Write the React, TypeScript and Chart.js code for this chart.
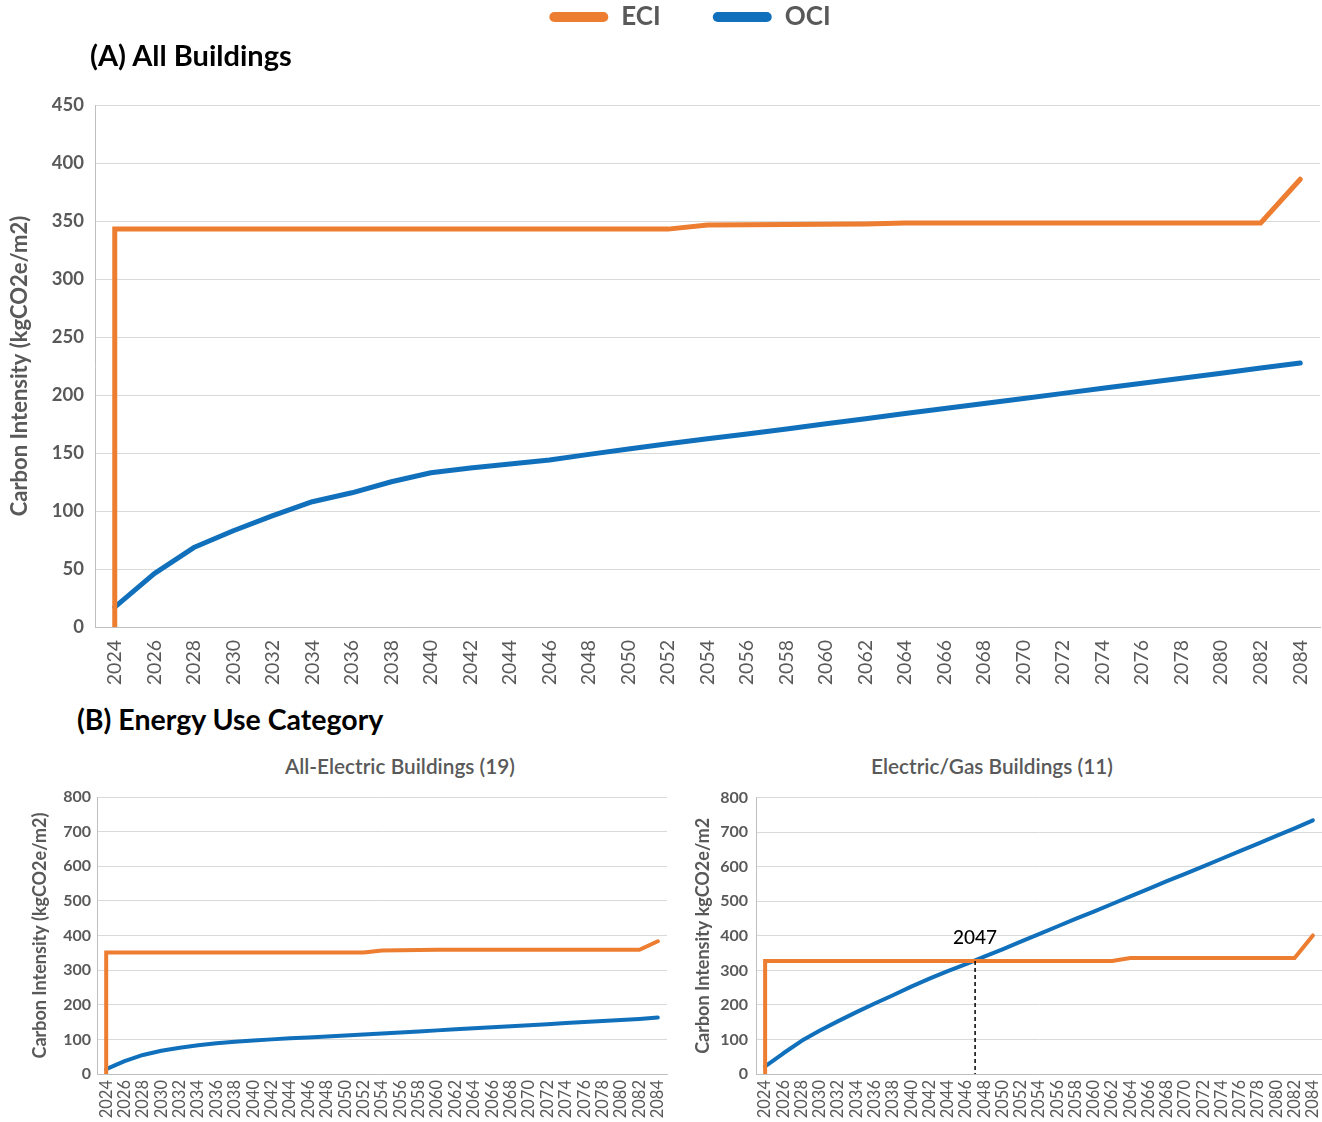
import React, { useEffect, useRef } from 'react';
import { Chart, registerables } from 'chart.js';

Chart.register(...registerables);

const FONT = 'Lato, "Noto Sans", "DejaVu Sans", sans-serif';
const GRAY = '#595959';
const GRID = '#d9d9d9';
const AXIS = '#bfbfbf';
const ORANGE = '#ED7D31';
const BLUE = '#1170BB';

// ---------- data ----------
const years = [2024, 2026, 2028, 2030, 2032, 2034, 2036, 2038, 2040, 2042, 2044, 2046, 2048, 2050, 2052, 2054, 2056, 2058, 2060, 2062, 2064, 2066, 2068, 2070, 2072, 2074, 2076, 2078, 2080, 2082, 2084];
const seriesLabels = ['ECI', 'OCI'];

// (A) All Buildings
const eciStartAll = 0;
const eciAll = [343, 343, 343, 343, 343, 343, 343, 343, 343, 343, 343, 343, 343, 343, 343, 346.5, 346.7, 347, 347.2, 347.4, 348.3, 348.3, 348.3, 348.3, 348.3, 348.3, 348.3, 348.3, 348.3, 348.3, 386];
const ociAll = [17.2, 46, 68.5, 83, 96, 108, 115.7, 125.2, 133, 137, 140.5, 144, 148.8, 153.5, 158, 162.3, 166.3, 170.7, 175.2, 179.6, 184, 188.3, 192.7, 197, 201.4, 205.8, 210.2, 214.5, 218.8, 223.2, 227.5];

// (B) All-Electric Buildings (19)
const eciStartElectric = 0;
const eciElectric = [351, 351, 351, 351, 351, 351, 351, 351, 351, 351, 351, 351, 351, 351, 351, 357, 357.5, 358, 359, 359, 359, 359, 359, 359, 359, 359, 359, 359, 359, 359, 383.5];
const ociElectric = [14, 37, 55, 67, 76, 83, 88.5, 93, 97, 100, 103, 105.5, 108, 111, 114, 117, 120, 123, 126, 129, 132, 135, 138, 141, 144, 147, 150, 153, 156, 159, 163];

// (B) Electric/Gas Buildings (11)
const eciStartGas = 0;
const eciGas = [327, 327, 327, 327, 327, 327, 327, 327, 327, 327, 327, 327, 327, 327, 327, 327, 327, 327, 327, 327, 336, 336, 336, 336, 336, 336, 336, 336, 336, 336, 401];
const ociGas = [22, 60, 96, 126, 153, 179, 204, 228, 253, 276, 298, 318, 340, 361, 383, 405, 427, 449, 470, 492, 514, 536, 558, 579, 601, 623, 645, 667, 689, 711, 734];
const crossYear = 2047;
const crossValue = 327;
const crossLabel = '2047';

// ---------- helpers ----------
const withStart = (start: number, vals: number[]) => [
  { x: years[0], y: start },
  ...years.map((x, i) => ({ x, y: vals[i] })),
];
const plain = (vals: number[]) => years.map((x, i) => ({ x, y: vals[i] }));

const legendLayoutPlugin: any = {
  id: 'legendLayout',
  beforeInit(chart: any, _args: any, opts: any) {
    const legend = chart.legend;
    if (!legend || !opts || !opts.extraHeight) return;
    const origFit = legend.fit.bind(legend);
    legend.fit = function () {
      origFit();
      this.height += opts.extraHeight;
    };
  },
  afterLayout(chart: any, _args: any, opts: any) {
    const legend = chart.legend;
    if (!legend || !opts || !opts.shiftX) return;
    legend.left += opts.shiftX;
    legend.right += opts.shiftX;
  },
};

const crossingPlugin: any = {
  id: 'crossing',
  afterDatasetsDraw(chart: any, _args: any, opts: any) {
    if (!opts || !opts.label) return;
    const { ctx, chartArea, scales } = chart;
    const x = scales.x.getPixelForValue(opts.year);
    const y = scales.y.getPixelForValue(opts.value);
    ctx.save();
    ctx.strokeStyle = '#000';
    ctx.lineWidth = 1.5;
    ctx.setLineDash([4, 3]);
    ctx.beginPath();
    ctx.moveTo(x, y);
    ctx.lineTo(x, chartArea.bottom);
    ctx.stroke();
    ctx.setLineDash([]);
    ctx.fillStyle = '#000';
    ctx.font = `500 19px ${FONT}`;
    ctx.textAlign = 'center';
    ctx.textBaseline = 'middle';
    ctx.fillText(opts.label, x, y - 23);
    ctx.restore();
  },
};

type PanelSpec = {
  eciStart: number;
  eci: number[];
  oci: number[];
  yMax: number;
  yStep: number;
  yTitle: string;
  lineWidth: number;
  yTickSize: number;
  yTickWeight: any;
  xTickSize: number;
  yTitleSize: number;
  yTitlePad: number;
  yAxisWidth: number;
  yTickPad: number;
  xAxisHeight: number;
  xTickPad: number;
  padding: { top: number; right: number; left: number; bottom: number };
  legend: boolean;
  extraPlugins: any;
};

function makeConfig(p: PanelSpec): any {
  return {
    type: 'line',
    data: {
      datasets: [
        {
          label: seriesLabels[0],
          data: withStart(p.eciStart, p.eci),
          borderColor: ORANGE,
          backgroundColor: ORANGE,
          borderWidth: p.lineWidth,
          pointRadius: 0,
          borderCapStyle: 'round',
          borderJoinStyle: 'miter',
          tension: 0,
          fill: false,
        },
        {
          label: seriesLabels[1],
          data: plain(p.oci),
          borderColor: BLUE,
          backgroundColor: BLUE,
          borderWidth: p.lineWidth,
          pointRadius: 0,
          borderCapStyle: 'round',
          borderJoinStyle: 'round',
          tension: 0,
          fill: false,
        },
      ],
    },
    options: {
      responsive: false,
      maintainAspectRatio: false,
      animation: false,
      events: [],
      layout: { padding: p.padding },
      plugins: {
        tooltip: { enabled: false },
        title: { display: false },
        legend: {
          display: p.legend,
          position: 'top',
          align: 'center',
          labels: {
            font: { family: FONT, size: 26, weight: 'bold' },
            color: GRAY,
            boxWidth: 59,
            boxHeight: 10,
            useBorderRadius: true,
            borderRadius: 5,
            padding: 52,
            generateLabels: (chart: any) =>
              Chart.defaults.plugins.legend.labels
                .generateLabels(chart)
                .map((l: any) => ({ ...l, lineWidth: 0, fillStyle: l.strokeStyle })),
          },
        },
        legendLayout: { extraHeight: 65, shiftX: 30 },
        crossing: { year: crossYear, value: crossValue, label: crossLabel },
      },
      scales: {
        x: {
          type: 'linear',
          min: 2023,
          max: 2085,
          afterBuildTicks: (axis: any) => {
            axis.ticks = years.map((v) => ({ value: v }));
          },
          afterFit: (s: any) => {
            s.height = p.xAxisHeight;
            s.paddingLeft = 0;
            s.paddingRight = 0;
          },
          ticks: {
            autoSkip: false,
            maxRotation: 90,
            minRotation: 90,
            font: { family: FONT, size: p.xTickSize },
            color: GRAY,
            padding: p.xTickPad,
            callback: (v: any) => String(v),
          },
          grid: { display: false, drawTicks: false },
          border: { display: true, color: AXIS, width: 1 },
        },
        y: {
          type: 'linear',
          min: 0,
          max: p.yMax,
          afterFit: (s: any) => {
            s.width = p.yAxisWidth;
          },
          ticks: {
            stepSize: p.yStep,
            font: { family: FONT, size: p.yTickSize, weight: p.yTickWeight },
            color: GRAY,
            padding: p.yTickPad,
          },
          grid: { color: GRID, lineWidth: 1, drawTicks: false },
          border: { display: true, color: AXIS, width: 1 },
          title: {
            display: true,
            text: p.yTitle,
            font: { family: FONT, size: p.yTitleSize, weight: 'bold' },
            color: GRAY,
            padding: { top: p.yTitlePad, bottom: 0 },
          },
        },
      },
    },
    plugins: p.extraPlugins,
  };
}

function ChartBox(props: { spec: PanelSpec; left: number; top: number; width: number; height: number }) {
  const ref = useRef<HTMLCanvasElement>(null);
  useEffect(() => {
    if (!ref.current) return;
    const chart = new Chart(ref.current, makeConfig(props.spec));
    return () => chart.destroy();
  }, []);
  const { left, top, width, height } = props;
  return (
    <canvas
      ref={ref}
      width={width}
      height={height}
      style={{ position: 'absolute', left, top, width, height }}
    />
  );
}

const specA: PanelSpec = {
  eciStart: eciStartAll,
  eci: eciAll,
  oci: ociAll,
  yMax: 450,
  yStep: 50,
  yTitle: 'Carbon Intensity (kgCO2e/m2)',
  lineWidth: 5,
  yTickSize: 18.5,
  yTickWeight: 'bold',
  xTickSize: 19.5,
  yTitleSize: 22,
  yTitlePad: 7,
  yAxisWidth: 95,
  yTickPad: 11,
  xAxisHeight: 73,
  xTickPad: 13,
  padding: { top: -48, right: 2, left: 0, bottom: 0 },
  legend: true,
  extraPlugins: [legendLayoutPlugin],
};

const specElectric: PanelSpec = {
  eciStart: eciStartElectric,
  eci: eciElectric,
  oci: ociElectric,
  yMax: 800,
  yStep: 100,
  yTitle: 'Carbon Intensity (kgCO2e/m2)',
  lineWidth: 4,
  yTickSize: 16,
  yTickWeight: 'bold',
  xTickSize: 16.5,
  yTitleSize: 18,
  yTitlePad: 29,
  yAxisWidth: 97,
  yTickPad: 6,
  xAxisHeight: 48,
  xTickPad: 6,
  padding: { top: 17, right: 3, left: 0, bottom: 0 },
  legend: false,
  extraPlugins: [],
};

const specGas: PanelSpec = {
  eciStart: eciStartGas,
  eci: eciGas,
  oci: ociGas,
  yMax: 800,
  yStep: 100,
  yTitle: 'Carbon Intensity kgCO2e/m2',
  lineWidth: 4,
  yTickSize: 16,
  yTickWeight: 'bold',
  xTickSize: 16.5,
  yTitleSize: 18,
  yTitlePad: 12,
  yAxisWidth: 76,
  yTickPad: 8,
  xAxisHeight: 48,
  xTickPad: 6,
  padding: { top: 17, right: 0, left: 0, bottom: 0 },
  legend: false,
  extraPlugins: [crossingPlugin],
};

const heading = (left: number, centerY: number, size: number): React.CSSProperties => ({
  position: 'absolute',
  left,
  top: centerY - size / 2,
  fontSize: size,
  lineHeight: `${size}px`,
  fontWeight: 'bold',
  color: '#000',
  whiteSpace: 'nowrap',
  fontFamily: FONT,
});

const subTitle = (centerX: number, centerY: number, size: number): React.CSSProperties => ({
  position: 'absolute',
  left: centerX - 200,
  width: 400,
  textAlign: 'center',
  top: centerY - size / 2,
  fontSize: size,
  lineHeight: `${size}px`,
  fontWeight: 600,
  color: GRAY,
  whiteSpace: 'nowrap',
  fontFamily: FONT,
});

export default function App() {
  return (
    <div
      style={{
        position: 'absolute',
        left: 0,
        top: 0,
        width: 1322,
        height: 1122,
        background: '#fff',
        overflow: 'hidden',
      }}
    >
      <ChartBox spec={specA} left={0} top={0} width={1322} height={700} />
      <div style={heading(90, 54, 29)}>(A) All Buildings</div>
      <div style={heading(77, 719, 28.5)}>(B) Energy Use Category</div>
      <div style={subTitle(400, 766, 20.8)}>All-Electric Buildings (19)</div>
      <div style={subTitle(992, 766, 20.8)}>Electric/Gas Buildings (11)</div>
      <ChartBox spec={specElectric} left={0} top={780} width={670} height={342} />
      <ChartBox spec={specGas} left={680} top={780} width={642} height={342} />
    </div>
  );
}
